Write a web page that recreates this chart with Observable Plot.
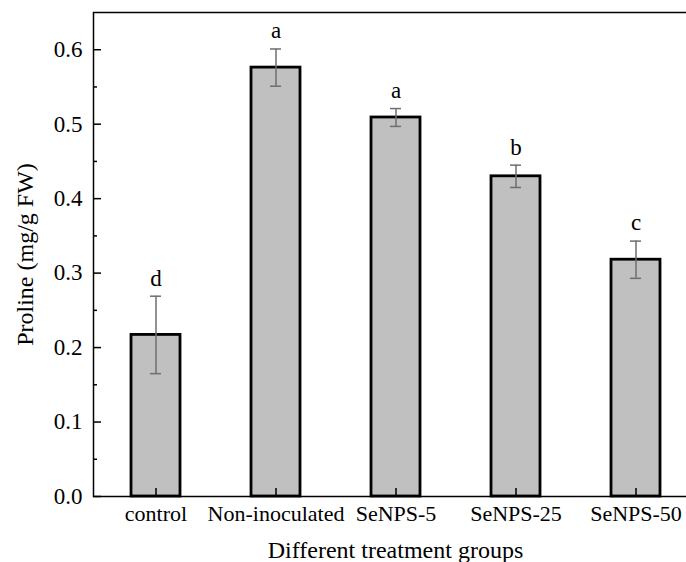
<!DOCTYPE html>
<html>
<head>
<meta charset="utf-8">
<script src="https://cdn.jsdelivr.net/npm/d3@7"></script>
<script src="https://cdn.jsdelivr.net/npm/@observablehq/plot@0.6"></script>
<style>
  html, body { margin: 0; padding: 0; background: #fff; }
  #chart svg { display: block; }
</style>
</head>
<body>
<div id="chart"></div>
<script>
const groups = ["control", "Non-inoculated", "SeNPS-5", "SeNPS-25", "SeNPS-50"];
const means = [0.217, 0.576, 0.509, 0.430, 0.318];
const errors = [0.052, 0.025, 0.012, 0.015, 0.025];
const letters = ["d", "a", "a", "b", "c"];
const yTicks = [0.0, 0.1, 0.2, 0.3, 0.4, 0.5, 0.6];
const yMinorTicks = [0.05, 0.15, 0.25, 0.35, 0.45, 0.55];
const yLabel = "Proline (mg/g FW)";
const xLabel = "Different treatment groups";

const data = groups.map((g, i) => ({group: g, mean: means[i], err: errors[i], letter: letters[i]}));
const font = "'Liberation Serif', 'Times New Roman', serif";

const chart = Plot.plot({
  width: 686,
  height: 562,
  marginLeft: 93,
  marginRight: -11,
  marginTop: 12,
  marginBottom: 66,
  style: {fontFamily: font, background: "#fff", overflow: "hidden"},
  x: {domain: groups, paddingInner: 0.595, paddingOuter: 0.2975, label: null},
  y: {domain: [0, 0.65], label: null},
  marks: [
    Plot.barY(data, {x: "group", y: "mean", fill: "#c0c0c0", stroke: "#000", strokeWidth: 2.8}),
    Plot.ruleX(data, {x: "group", y1: d => d.mean - d.err, y2: d => d.mean + d.err, stroke: "#6e6e6e", strokeWidth: 1.5}),
    Plot.tickY(data, {x: "group", y: d => d.mean + d.err, stroke: "#6e6e6e", strokeWidth: 1.5, insetLeft: 19, insetRight: 19}),
    Plot.tickY(data, {x: "group", y: d => d.mean - d.err, stroke: "#6e6e6e", strokeWidth: 1.5, insetLeft: 19, insetRight: 19}),
    Plot.text(data, {x: "group", y: d => d.mean + d.err, text: "letter", dy: -18, fontSize: 23, fill: "#000"}),
    Plot.axisY(yTicks, {tickSize: 0, tickPadding: 11, fontSize: 23, tickFormat: d3.format(".1f"), fill: "#000", label: null}),
    Plot.axisY(yTicks, {tickSize: -8, strokeWidth: 1.5, tickFormat: () => "", label: null}),
    Plot.axisY(yMinorTicks, {tickSize: -4, strokeWidth: 1.5, tickFormat: () => "", label: null}),
    Plot.axisX({tickSize: -8, tickPadding: 17, strokeWidth: 1.5, fontSize: 22, fill: "#000", label: null}),
    Plot.frame({stroke: "#000", strokeWidth: 1.5}),
    Plot.text([yLabel], {frameAnchor: "left", dx: -68, rotate: -90, textAnchor: "middle", lineAnchor: "middle", fontSize: 24, fill: "#000"}),
    Plot.text([xLabel], {frameAnchor: "bottom", dy: 54, textAnchor: "middle", lineAnchor: "middle", fontSize: 24, fill: "#000"})
  ]
});
document.getElementById("chart").appendChild(chart);
</script>
</body>
</html>
